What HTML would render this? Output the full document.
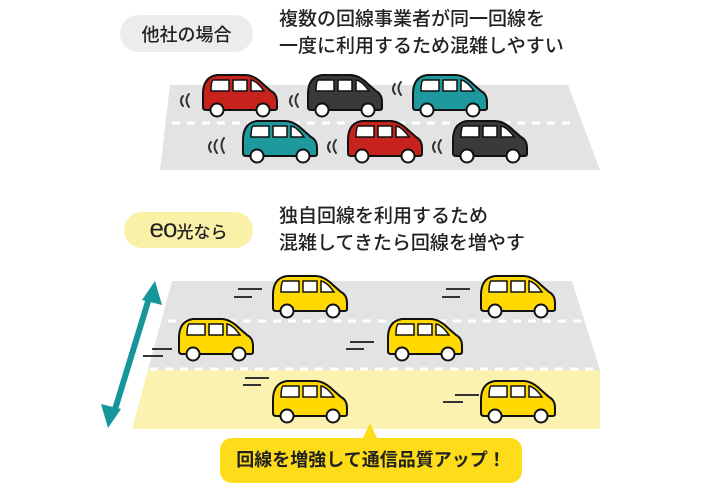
<!DOCTYPE html>
<html><head><meta charset="utf-8"><style>
body{margin:0;width:720px;height:499px;background:#fff;position:relative;overflow:hidden;font-family:"Liberation Sans","Noto Sans CJK JP",sans-serif;color:#222}
.pill{position:absolute;border-radius:20px;font-size:18px;display:flex;align-items:center;justify-content:center;font-weight:500}
.t{position:absolute;font-size:19px;line-height:27px;white-space:nowrap;font-weight:500}
</style></head><body>
<svg width="720" height="499" style="position:absolute;left:0;top:0">
<defs>
<g id="car">
<path d="M4 22 Q4 5 18 3 L46 3 Q55 3 64 12 L72 19 Q78 22 78 30 L78 36 Q78 38 75 38 L7 38 Q4 38 4 35 Z" stroke="#111" stroke-width="2"/>
<path d="M14 8 L30 8 L30 19 L12 19 Q12 10 14 8 Z M34 8 L48 8 L48 19 L34 19 Z M52 8 Q58 9 65 19 L52 19 Z" fill="#fff" stroke="#111" stroke-width="1.5"/>
<circle cx="18" cy="38" r="6.5" fill="#fff" stroke="#111" stroke-width="2"/>
<circle cx="64" cy="38" r="6.5" fill="#fff" stroke="#111" stroke-width="2"/>
</g>
</defs>
<polygon points="170,85 568,85 600,170 160,170" fill="#e3e3e3"/>
<line x1="172" y1="123" x2="570" y2="123" stroke="#fff" stroke-width="3" stroke-dasharray="8,7"/>
<polygon points="172,281 572,281 600,370 148,370" fill="#e3e3e3"/>
<polygon points="148,370 600,370 600,429 132,429" fill="#fbf1b0"/>
<line x1="168" y1="321" x2="584" y2="321" stroke="#fff" stroke-width="3" stroke-dasharray="8,7"/>
<line x1="150" y1="369" x2="598" y2="369" stroke="#fff" stroke-width="3" stroke-dasharray="8,7"/>
<g fill="#c8221d"><use href="#car" transform="translate(199,72)"/><use href="#car" transform="translate(344,118)"/></g>
<g fill="#3a3a3a"><use href="#car" transform="translate(304,72)"/><use href="#car" transform="translate(449,118)"/></g>
<g fill="#1e9a9e"><use href="#car" transform="translate(409,72)"/><use href="#car" transform="translate(239,118)"/></g>
<g fill="none" stroke="#333" stroke-width="2" stroke-linecap="round">
<path d="M183 96 q-4 5 0 10 M189 94 q-5 6 0 13"/>
<path d="M292 96 q-4 5 0 10 M298 94 q-5 6 0 13"/>
<path d="M395 84 q-4 5 0 10 M401 82 q-5 6 0 13"/>
<path d="M211 142 q-4 5 0 10 M217 140 q-5 6 0 13 M224 138 q-5 7 0 15"/>
<path d="M330 142 q-4 5 0 10 M336 140 q-5 6 0 13"/>
<path d="M435 142 q-4 5 0 10 M441 140 q-5 6 0 13"/>
</g>
<g fill="#ffd900">
<use href="#car" transform="translate(269,273)"/><use href="#car" transform="translate(477,273)"/>
<use href="#car" transform="translate(175,316)"/><use href="#car" transform="translate(384,316)"/>
<use href="#car" transform="translate(269,378)"/><use href="#car" transform="translate(477,378)"/>
</g>
<g stroke="#333" stroke-width="2">
<path d="M238 289 h24 M234 297 h18"/><path d="M446 289 h24 M442 297 h18"/>
<path d="M152 349 h20 M143 356 h20"/><path d="M350 342 h24 M346 349 h18"/>
<path d="M245 378 h24 M243 385 h18"/><path d="M455 395 h24 M443 402 h20"/>
</g>
<line x1="150" y1="295" x2="113" y2="416" stroke="#17969a" stroke-width="6"/>
<polygon points="155,281 162,305 142,300" fill="#17969a"/>
<polygon points="108,428 101,404 121,409" fill="#17969a"/>
<polygon points="362,440 370,423 378,440" fill="#ffdc1a"/>
<rect x="220" y="438" width="302" height="45" rx="12" fill="#ffdc1a"/>
</svg>
<div class="pill" style="left:120px;top:15px;width:133px;height:37px;background:#ececec">他社の場合</div>
<div class="t" style="left:279px;top:6px">複数の回線事業者が同一回線を<br>一度に利用するため混雑しやすい</div>
<div class="pill" style="left:124px;top:212px;width:129px;height:36px;background:#fbf0a8"><span style="font-size:26px;letter-spacing:-1px;margin-top:-4px">eo</span><span style="font-size:17px">光なら</span></div>
<div class="t" style="left:279px;top:203px">独自回線を利用するため<br>混雑してきたら回線を増やす</div>
<div class="t" style="left:220px;top:447px;width:302px;text-align:center;font-size:18px;font-weight:700">回線を増強して通信品質アップ！</div>
</body></html>
